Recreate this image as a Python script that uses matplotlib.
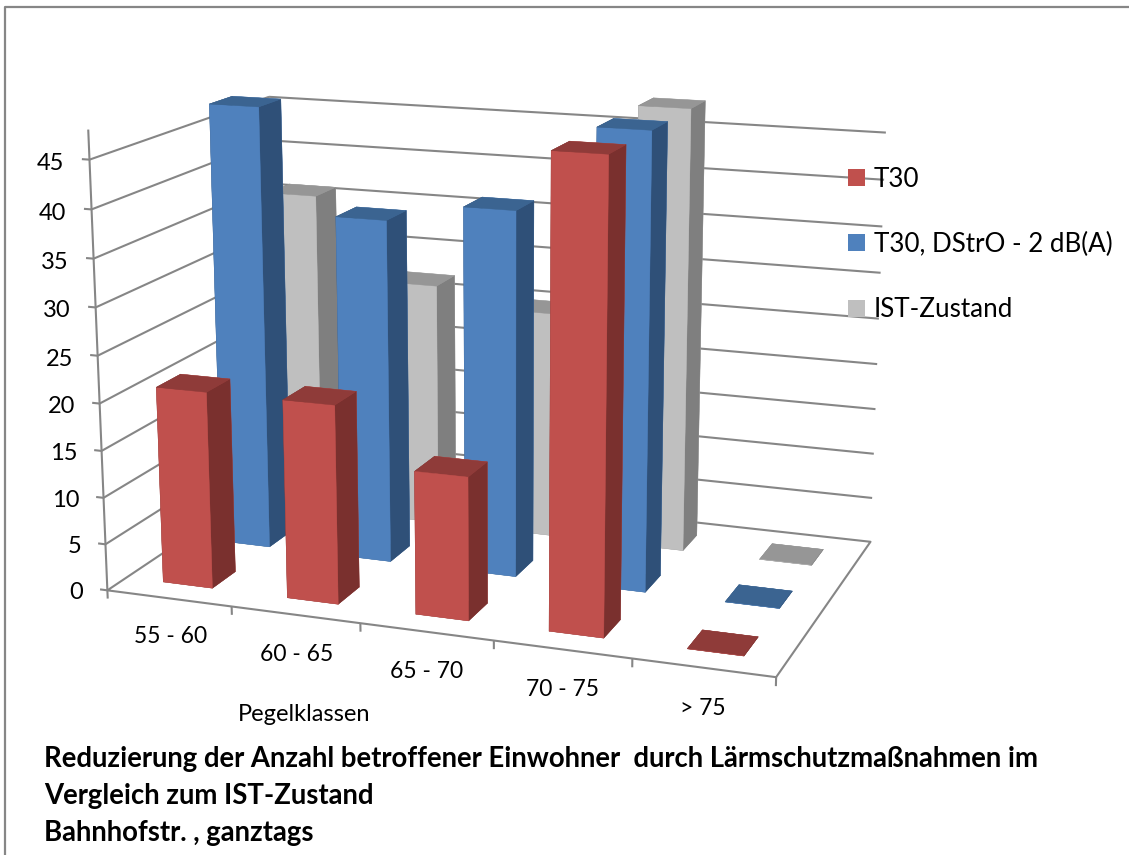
import matplotlib
matplotlib.use('Agg')
import matplotlib.pyplot as plt
from matplotlib.patches import Rectangle
from matplotlib.lines import Line2D
from mpl_toolkits.mplot3d import proj3d

categories = ['55 - 60', '60 - 65', '65 - 70', '70 - 75', '> 75']
t30 = [21, 21, 15, 48, 0]
t30_dstro = [48, 37, 39, 48, 0]
ist_zustand = [36, 27, 25, 48, 0]
z_ticks = [0, 5, 10, 15, 20, 25, 30, 35, 40, 45]

# front row first: name, values, front / top / side colour
series = [
    ('T30', t30, '#c0504d', '#8f3b39', '#7a302e'),
    ('T30, DStrO - 2 dB(A)', t30_dstro, '#4f81bd', '#3b6491', '#2f5078'),
    ('IST-Zustand', ist_zustand, '#bfbfbf', '#969696', '#7f7f7f'),
]

W, H = 1129, 855
GRID = '#868686'
plt.rcParams['font.family'] = ['Lato', 'DejaVu Sans']

fig = plt.figure(figsize=(W / 100, H / 100), dpi=100)

# camera for the 3d box, scale and centre in pixels
scale, cx, cy = 4741.795, 499.038, 360.037
ax = fig.add_axes([0, 0, 1, 1], projection='3d', computed_zorder=False)
ax.view_init(elev=14.7627, azim=-70.0241, roll=0.0469)
ax.set_proj_type('persp', focal_length=0.5476)
ax.set_box_aspect((1, 0.5940, 0.6365))
x0, x1 = ax.viewLim.intervalx
y0, y1 = ax.viewLim.intervaly
ax.set_position([(cx + scale * x0) / W, (H - cy + scale * y0) / H,
                 scale * (x1 - x0) / W, scale * (y1 - y0) / H])
ax.set_axis_off()
ax.patch.set_visible(False)

n_cat = len(categories)
n_row = len(series)
bar_half = 0.2
depth_half = 0.1952

def line(xs, ys, zs):
    ax.plot(xs, ys, zs, color=GRID, lw=1.5, zorder=1, solid_capstyle='butt')

# gridlines on the left and back walls
for z in z_ticks[1:]:
    line([0, 0], [0, n_row], [z, z])
    line([0, n_cat], [n_row, n_row], [z, z])
    line([0, -0.06], [0, 0], [z, z])

# floor outline, value axis and ticks
line([0, n_cat, n_cat, 0, 0], [0, 0, n_row, n_row, 0], [0, 0, 0, 0, 0])
line([0, 0], [0, 0], [0, 48])
line([0, -0.06], [0, 0], [0, 0])
for c in range(n_cat + 1):
    line([c, c], [0, 0], [0, -0.9])

# back row first so the nearer bars cover it
order = 2
for r in reversed(range(n_row)):
    name, values, front, top, side = series[r]
    for c, v in enumerate(values):
        # face order of bar3d: bottom, top, front, back, left, right
        ax.bar3d(c + 0.5 - bar_half, r + 0.5 - depth_half, 0,
                 2 * bar_half, 2 * depth_half, v,
                 color=[top, top, front, front, side, side],
                 shade=False, zorder=order, linewidth=0.3,
                 edgecolor=[top, top, front, front, side, side])
        order += 1

ax.set_xlim(0, n_cat, view_margin=0)
ax.set_ylim(0, n_row, view_margin=0)
ax.set_zlim(0, 45, view_margin=0)

def label3d(x, y, z, s, **kw):
    # place a flat label at the projected position of a 3d point
    px, py, _ = proj3d.proj_transform(x, y, z, ax.get_proj())
    ax.text2D(px, py, s, transform=ax.transData, va='center', color='black',
              zorder=50, **kw)

for z in z_ticks:
    label3d(-0.2, 0, z - 0.6, str(z), ha='right', fontsize=17)
for c, label in enumerate(categories):
    label3d(c + 0.5, 0, -4.2, label, ha='center', fontsize=16.5)

# legend squares and names
for (name, values, front, top, side), y in zip(series, [178, 243, 308]):
    fig.add_artist(Rectangle((848 / W, 1 - (y + 8.5) / H), 17 / W, 17 / H,
                             transform=fig.transFigure, facecolor=front,
                             edgecolor='none', zorder=5))
    fig.text(874 / W, 1 - (y + 1.5) / H, name, ha='left', va='center',
             fontsize=18.7, color='black', zorder=6)

fig.text(304 / W, 1 - 714 / H, 'Pegelklassen', ha='center', va='center',
         fontsize=17, color='black')

title_lines = ['Reduzierung der Anzahl betroffener Einwohner  durch Lärmschutzmaßnahmen im',
               'Vergleich zum IST-Zustand',
               'Bahnhofstr. , ganztags']
for t, y in zip(title_lines, [759, 796, 833]):
    fig.text(44 / W, 1 - y / H, t, ha='left', va='center', fontsize=19.8,
             fontweight='bold', color='black')

# frame along the left and top of the picture
fig.add_artist(Line2D([5 / W, 5 / W, 1], [0, 1 - 7 / H, 1 - 7 / H],
                      transform=fig.transFigure, color=GRID, lw=1.6))

fig.savefig('out.png', dpi=100)
